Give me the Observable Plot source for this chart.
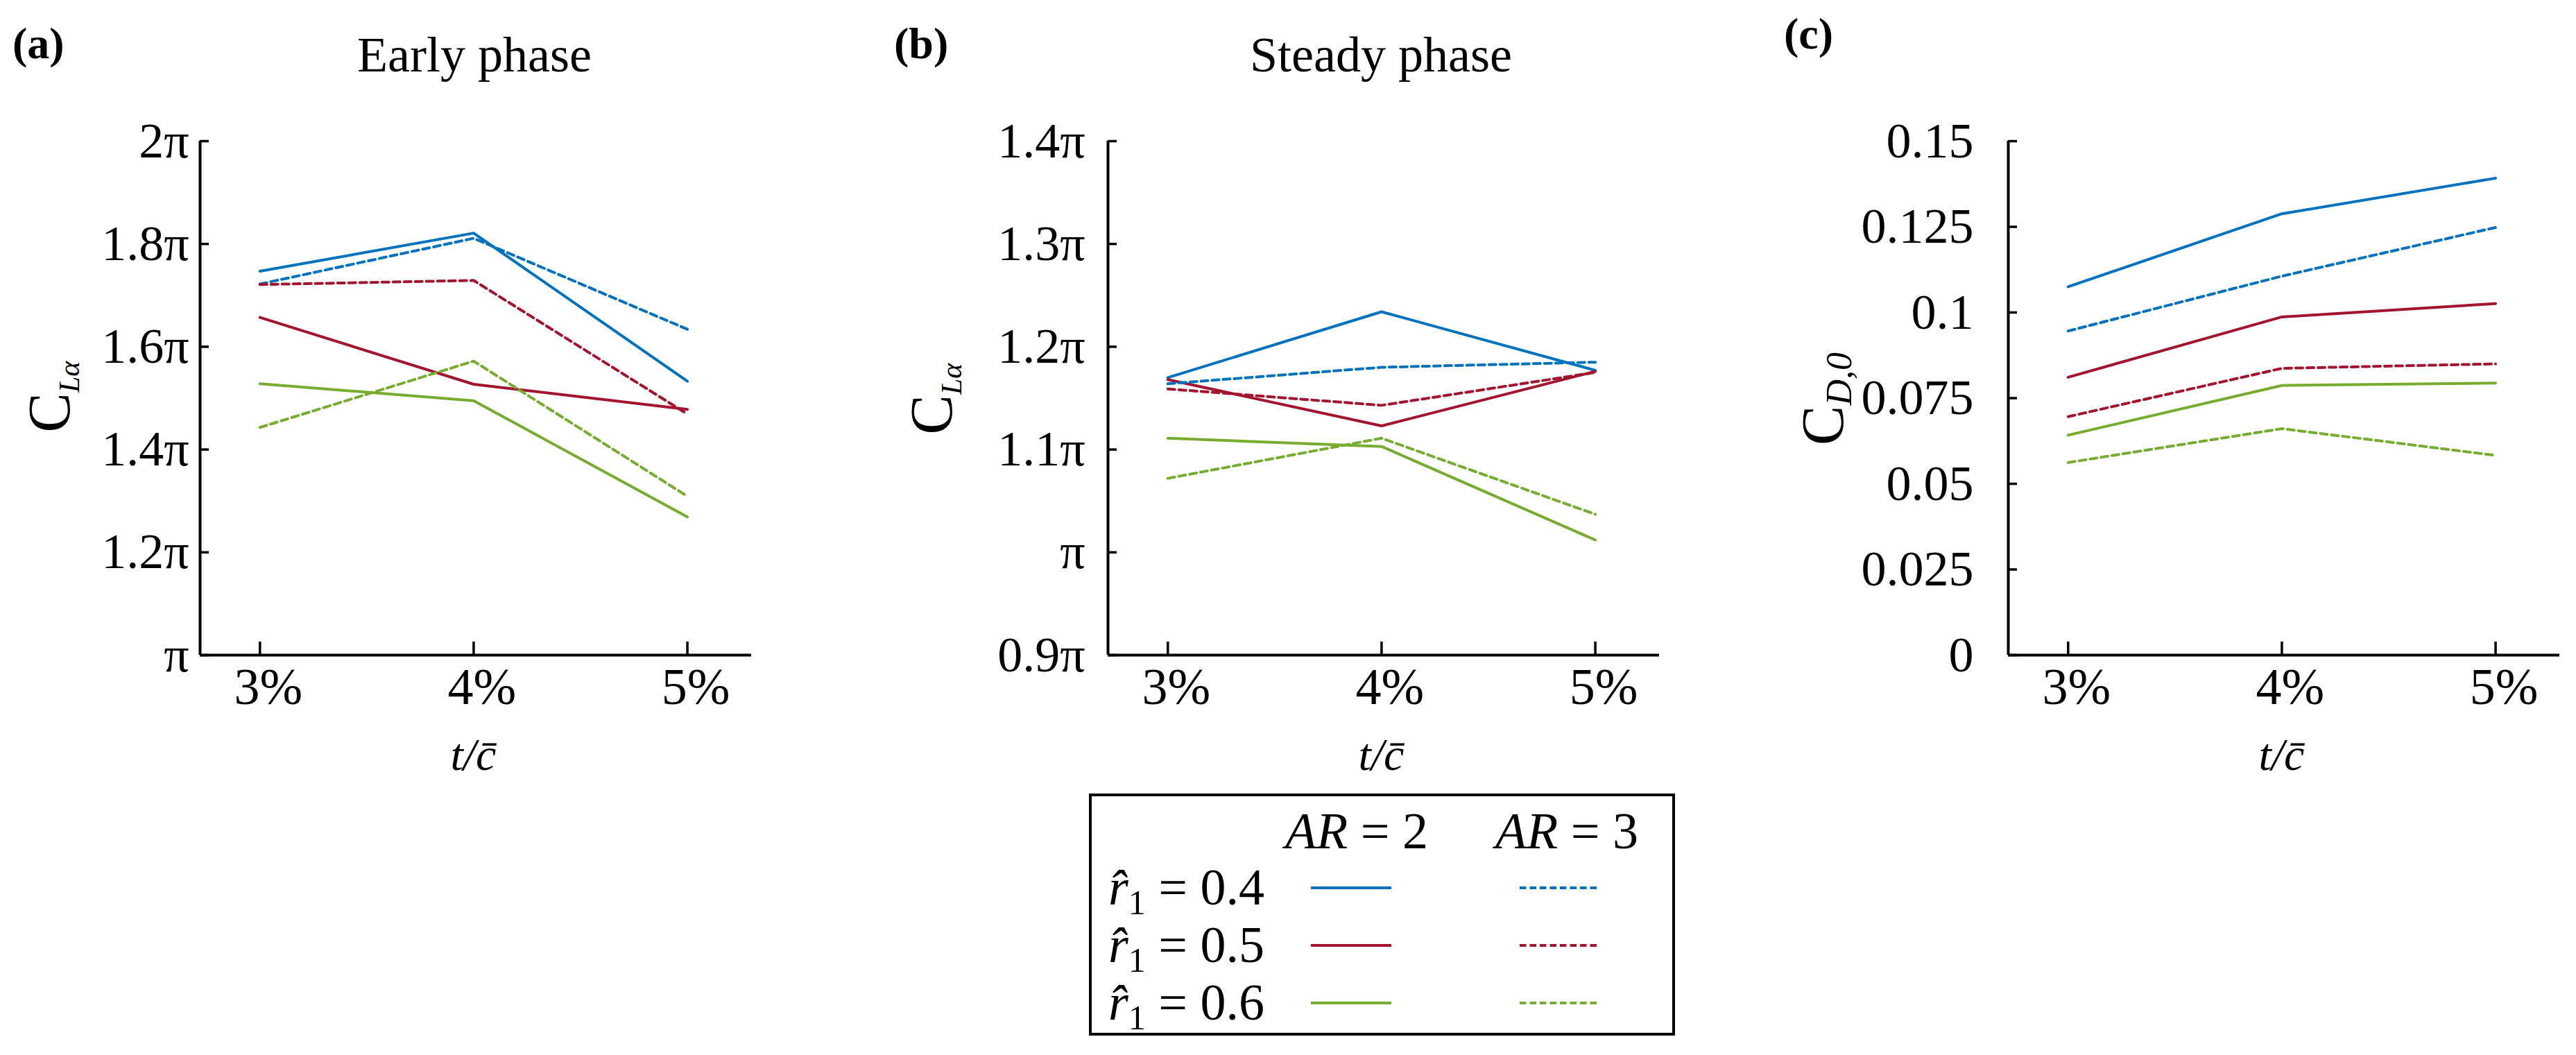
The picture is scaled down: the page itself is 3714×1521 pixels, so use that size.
<!DOCTYPE html>
<html>
<head>
<meta charset="utf-8">
<script src="https://cdn.jsdelivr.net/npm/d3@7"></script>
<script src="https://cdn.jsdelivr.net/npm/@observablehq/plot@0.6"></script>
<style>
  body { margin: 0; background: white; }
  #page { position: relative; width: 3714px; height: 1521px; font-family: "Liberation Serif", serif; }
  .panel { position: absolute; top: 143px; }
  .panel svg, .panel svg text { font-family: "Liberation Serif", serif !important; }
  #overlay { position: absolute; left: 0; top: 0; pointer-events: none; }
</style>
</head>
<body>
<div id="page">
  <div class="panel" id="pa" style="left:58px"></div>
  <div class="panel" id="pb" style="left:1367px"></div>
  <div class="panel" id="pc" style="left:2665px"></div>
</div>
<script>
// t/c̄ in percent
const thickness = [3, 4, 5]
const rHat = [0.4, 0.5, 0.6]
const colors = ['#0072BD', '#A2142F', '#77AC30']

// early phase C_Lα, in units of π (rows: r̂1 = 0.4, 0.5, 0.6)
const earlyAR2 = [[1.747, 1.821, 1.533], [1.657, 1.527, 1.478], [1.528, 1.495, 1.269]]
const earlyAR3 = [[1.722, 1.811, 1.634], [1.721, 1.729, 1.469], [1.443, 1.572, 1.309]]
// steady phase C_Lα, in units of π
const steadyAR2 = [[1.170, 1.234, 1.177], [1.168, 1.123, 1.176], [1.111, 1.103, 1.012]]
const steadyAR3 = [[1.164, 1.180, 1.185], [1.159, 1.143, 1.175], [1.072, 1.111, 1.037]]
// C_D,0
const dragAR2 = [[0.1075, 0.1288, 0.1392], [0.0811, 0.0987, 0.1026], [0.0642, 0.0787, 0.0794]]
const dragAR3 = [[0.0946, 0.1106, 0.1248], [0.0696, 0.0837, 0.0850], [0.0562, 0.0661, 0.0583]]

const earlyTicks = [1, 1.2, 1.4, 1.6, 1.8, 2]
const steadyTicks = [0.9, 1, 1.1, 1.2, 1.3, 1.4]
const dragTicks = [0, 0.025, 0.05, 0.075, 0.1, 0.125, 0.15]

const piFormat = v => v === 1 ? 'π' : `${+v.toFixed(1)}π`

const W = 795, H = 741, mL = 230, mR = 20, mT = 60, mB = 110
const xDom = [2.72, 5.3]
const serif = 'Liberation Serif'

function rows(tbl) {
  return rHat.flatMap((r, i) => thickness.map((t, j) => ({t, r, v: tbl[i][j]})))
}

function panel(ar2, ar3, ticks, fmt, pad) {
  const y0 = ticks[0]
  return Plot.plot({
    width: W + mL + mR,
    height: H + mT + mB,
    marginLeft: mL, marginRight: mR, marginTop: mT, marginBottom: mB,
    style: {fontFamily: serif, fontSize: '72px', color: 'black', background: 'white'},
    x: {domain: xDom, axis: null},
    y: {domain: [y0, ticks[ticks.length - 1]], axis: null},
    color: {type: 'ordinal', domain: rHat, range: colors},
    marks: [
      Plot.line(rows(ar2), {x: 't', y: 'v', z: 'r', stroke: 'r', strokeWidth: 4}),
      Plot.line(rows(ar3), {x: 't', y: 'v', z: 'r', stroke: 'r', strokeWidth: 4, strokeDasharray: '10,6'}),
      Plot.tickX(thickness, {x: d => d, insetTop: H - 19, strokeWidth: 3.5}),
      Plot.tickY(ticks, {y: d => d, insetRight: W - 13, strokeWidth: 3.5}),
      Plot.ruleX([xDom[0]], {strokeWidth: 4}),
      Plot.ruleY([y0], {strokeWidth: 4}),
      Plot.axisX({ticks: thickness, tickFormat: d => d + '%', tickSize: 0, tickPadding: 18, dx: 12,
        label: null, fontSize: 74, fontFamily: serif}),
      Plot.axisY({ticks: ticks, tickFormat: fmt, tickSize: 0, tickPadding: pad,
        label: null, fontSize: 72, fontFamily: serif})
    ]
  })
}

d3.select('#pa').append(() => panel(earlyAR2, earlyAR3, earlyTicks, piFormat, 16))
d3.select('#pb').append(() => panel(steadyAR2, steadyAR3, steadyTicks, piFormat, 33))
d3.select('#pc').append(() => panel(dragAR2, dragAR3, dragTicks, d => String(d), 50))

// titles, axis labels and legend
const svg = d3.select('#page').append('svg')
  .attr('id', 'overlay').attr('width', 3714).attr('height', 1521)
  .style('font-family', serif)

const tag = (x, y, s) => svg.append('text').attr('x', x).attr('y', y)
  .attr('font-size', 64).attr('font-weight', 'bold').text(s)
tag(18, 84, '(a)')
tag(1289, 84, '(b)')
tag(2572, 70, '(c)')

const title = (x, s) => svg.append('text').attr('x', x).attr('y', 103)
  .attr('text-anchor', 'middle').attr('font-size', 72).text(s)
title(684, 'Early phase')
title(1991, 'Steady phase')

function ylab(x, y, sub, subSize, subDy) {
  const t = svg.append('text').attr('transform', `translate(${x},${y}) rotate(-90)`)
    .attr('text-anchor', 'middle')
  t.append('tspan').attr('font-size', 86).text('C')
  t.append('tspan').attr('font-size', subSize).attr('font-style', 'italic').attr('dy', subDy).text(sub)
}
ylab(100, 572, 'Lα', 42, 14)
ylab(1372, 575, 'Lα', 42, 14)
ylab(2657, 575, 'D,0', 52, 12)

const panelLefts = [58, 1367, 2665]
panelLefts.forEach(left => {
  const cx = left + mL + (4 - xDom[0]) * W / (xDom[1] - xDom[0])
  svg.append('text').attr('x', cx).attr('y', 1110).attr('text-anchor', 'middle')
    .attr('font-size', 66).attr('font-style', 'italic').text('t/c\u0304')
})

// legend
svg.append('rect').attr('x', 1572).attr('y', 1146).attr('width', 841).attr('height', 345)
  .attr('fill', 'white').attr('stroke', 'black').attr('stroke-width', 4)

const arLabels = ['2', '3']
const arCenters = [1956, 2259]
arLabels.forEach((a, i) => {
  const t = svg.append('text').attr('x', arCenters[i]).attr('y', 1223)
    .attr('text-anchor', 'middle').attr('font-size', 74)
  t.append('tspan').attr('font-style', 'italic').text('AR')
  t.append('tspan').text(' = ' + a)
})

const rowY = [1280, 1363, 1446]
rHat.forEach((r, i) => {
  const t = svg.append('text').attr('x', 1598).attr('y', rowY[i] + 24).attr('font-size', 74)
  t.append('tspan').attr('font-style', 'italic').text('r\u0302')
  t.append('tspan').attr('font-size', 50).attr('dy', 14).text('1')
  t.append('tspan').attr('dy', -14).text(' = ' + r)
  svg.append('line').attr('x1', 1890).attr('x2', 2006).attr('y1', rowY[i]).attr('y2', rowY[i])
    .attr('stroke', colors[i]).attr('stroke-width', 4)
  svg.append('line').attr('x1', 2191).attr('x2', 2305).attr('y1', rowY[i]).attr('y2', rowY[i])
    .attr('stroke', colors[i]).attr('stroke-width', 4).attr('stroke-dasharray', '9.5,5')
})
</script>
</body>
</html>
